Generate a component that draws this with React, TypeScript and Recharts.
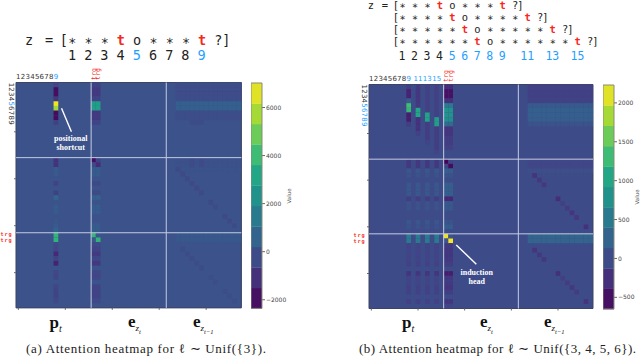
import { ScatterChart, Scatter, XAxis, YAxis, ReferenceArea, ReferenceLine } from "recharts";

const BLUE = "#1ea0ff";
const RED = "#f5281c";
const VIRIDIS = ["#440154", "#482475", "#414487", "#355f8d", "#2a788e", "#21918c", "#22a884", "#44bf70", "#7ad151", "#bddf26", "#fde725"];

// heatmap is 48 x 48: p_t, e_zt, e_zt-1 with 16 cells each
const GRID = 48;
const MAJOR_TICKS = [0.5, 10.5, 20.5, 30.5, 40.5];

// left panel, l ~ Unif({3})
const leftPos8 = [-400, -2000, -2000, -900, 6800, 5700, -2100, -2100, -600, 0, 0, 0, 0, 0, 0, 0, -1000, -1000, 300, 300, 0, -500, 0, -600, 700, 0, 300, 300, 0, 200, 300, 600, 3700, 3700, -300, -400, -1300, -500, -1500, 0, -400, -400, 0, -400, -500, -500, -300, 0];
const leftEmb16 = [-600, -800, -800, -500, 2800, 2800, -800, -800, -500, 0, 0, 0, 0, 0, 0, 0, -2000, -300, 300, 300, 0, -300, 0, -300, 500, 0, 300, 300, 0, 0, 300, 300, 3800, 200, -300, -500, -800, -400, -800, 0, -400, -400, 0, -500, -500, -500, -300, 0];
const leftEmb17 = [-600, -800, -800, -500, 2800, 2800, -800, -800, -500, 0, 0, 0, 0, 0, 0, 0, -500, -1200, 300, 300, 0, -300, 0, -300, 500, 0, 300, 300, 0, 0, 300, 300, 200, 3700, -300, -500, -800, -400, -800, 0, -400, -400, 0, -500, -500, -500, -300, 0];
const leftPrevBand = [-180, -220, -220, -180, 450, 450, -180, -180, 0, 0, 0, 0, 0, 0, 0, 0, -60, -60, 30, 0, 0, 0, 0, 0, 0, 0, 0, 0, 0, 0, 0, 0, 220, 220, 0, 0, 0, 0, 0, 0, 0, 0, 0, 0, 0, 0, 0, 0];
const leftDiagCols = [37, 38, 39, 37, 39, 37, 39, 34, 35, 36, 37, 38, 39, 41, 42, 44, 45, 46, 35, 36, 37, 38, 39, 41, 42, 44, 45, 46];
const leftDiagRows = [8, 8, 8, 16, 16, 17, 17, 18, 19, 20, 21, 22, 23, 25, 26, 28, 29, 30, 35, 36, 37, 38, 39, 41, 42, 44, 45, 46];
const leftDiagValues = [-200, -200, -200, -250, -250, -250, -250, -280, -300, -300, -320, -300, -300, -260, -240, -260, -260, -260, -200, -200, -230, -200, -200, -170, -170, -170, -170, -170];

// right panel, l ~ Unif({3,4,5,6})
const rightPos8 = [-130, -380, -380, 200, 1350, 1250, -420, -420, -130, 0, 0, 0, 0, 0, 0, 0, -170, -170, 130, 70, 0, 130, 130, 130, -140, 70, 70, 0, 0, 130, 100, 0, 520, 520, -70, -70, -70, -70, -100, 0, -210, -70, -70, -100, -100, 0, -100, 0];
const rightPos10 = [-170, -200, -200, -200, -170, 1050, 1050, -240, -240, -240, -100, 0, 0, 0, 0, 0, -170, -170, 130, 70, 0, 130, 130, 130, -140, 70, 70, 0, 0, 130, 100, 0, 520, 520, -70, -70, -70, -70, -100, 0, -210, -70, -70, -100, -100, 0, -100, 0];
const rightPos12 = [-100, -100, -100, -100, -100, -100, 1000, 1000, -140, -140, -140, -140, -70, 0, 0, 0, -170, -170, 130, 70, 0, 130, 130, 130, -140, 70, 70, 0, 0, 130, 100, 0, 520, 520, -70, -70, -70, -70, -100, 0, -210, -70, -70, -100, -100, 0, -100, 0];
const rightPos14 = [-100, -100, -100, -100, -100, -100, -100, 950, 950, -140, -140, -140, -140, -140, -70, 0, -170, -170, 130, 70, 0, 130, 130, 130, -140, 70, 70, 0, 0, 130, 100, 0, 520, 520, -70, -70, -70, -70, -100, 0, -210, -70, -70, -100, -100, 0, -100, 0];
const rightEmb16 = [-300, -520, -520, -260, 520, 800, 820, 780, 350, -220, -220, -150, -150, -100, 0, 0, -620, -70, 200, 100, 0, 200, 200, 200, -330, 140, 140, 0, 0, 100, 200, 0, 2150, 70, -170, -210, -210, -170, -140, 0, -420, -170, -170, -210, -140, 0, -210, -70];
const rightEmb17 = [-300, -520, -520, -260, 520, 800, 820, 780, 350, -220, -220, -150, -150, -100, 0, 0, -70, -560, 200, 100, 0, 200, 200, 200, -330, 140, 140, 0, 0, 100, 200, 0, 70, 2200, -170, -210, -210, -170, -140, 0, -420, -170, -170, -210, -140, 0, -210, -70];
const rightPrevBand = [-100, -110, -110, -90, 160, 220, 220, 200, 90, 0, 0, 0, 0, 0, 0, 0, -50, -50, 30, 0, 0, 0, 0, 0, 0, 0, 0, 0, 0, 0, 0, 0, 270, 270, 0, 0, 0, 0, 0, 0, 0, 0, 0, 0, 0, 0, 0, 0];
const rightDiagCols = [35, 36, 37, 40, 41, 42, 43, 44, 46, 35, 36, 37, 40, 41, 42, 43, 44, 46];
const rightDiagRows = [19, 20, 21, 24, 25, 26, 27, 28, 30, 35, 36, 37, 40, 41, 42, 43, 44, 46];
const rightDiagValues = [-220, -180, -180, -280, -110, -150, -220, -180, -250, -220, -180, -180, -250, -110, -150, -180, -150, -220];

const leftColorTicks = [-2000, 0, 2000, 4000, 6000];
const rightColorTicks = [-500, 0, 500, 1000, 1500, 2000];
const leftDomain: [number, number] = [-2360, 7020];
const rightDomain: [number, number] = [-650, 2230];

const leftTopLabels = ["1", "2", "3", "4", "5", "6", "7", "8", "9"];
const rightTopLabels = ["1", "2", "3", "4", "5", "6", "7", "8", "9", "", "11", "", "13", "", "15"];
const leftSideBlue = [4];
const rightSideBlue = [4, 5, 6, 7, 8];

function viridis(t: number) {
  const u = Math.max(0, Math.min(1, t)) * (VIRIDIS.length - 1);
  const i = Math.min(Math.floor(u), VIRIDIS.length - 2);
  const f = u - i;
  const a = VIRIDIS[i], b = VIRIDIS[i + 1];
  const ch = (s: number) => {
    const x = parseInt(a.slice(s, s + 2), 16);
    const y = parseInt(b.slice(s, s + 2), 16);
    return Math.round(x + (y - x) * f);
  };
  return `rgb(${ch(1)},${ch(3)},${ch(5)})`;
}

type Cell = { col: number; row: number; value: number };

function column(col: number, values: number[]): Cell[] {
  return values.map((value, row) => ({ col: col + 0.5, row: row + 0.5, value })).filter((c) => c.value !== 0);
}

function buildCells(columns: [number, number[]][], band: number[], diagCols: number[], diagRows: number[], diagValues: number[]) {
  const cells: Cell[] = [];
  columns.forEach(([col, values]) => cells.push(...column(col, values)));
  for (let col = 34; col < GRID; col++) cells.push(...column(col, band));
  diagCols.forEach((col, i) => cells.push({ col: col + 0.5, row: diagRows[i] + 0.5, value: diagValues[i] }));
  return cells;
}

const leftCells = buildCells([[8, leftPos8], [16, leftEmb16], [17, leftEmb17]], leftPrevBand, leftDiagCols, leftDiagRows, leftDiagValues);
const rightCells = buildCells([[8, rightPos8], [10, rightPos10], [12, rightPos12], [14, rightPos14], [16, rightEmb16], [17, rightEmb17]], rightPrevBand, rightDiagCols, rightDiagRows, rightDiagValues);

function Heatmap(props: any) {
  const { left, top, plotLeft, plotSize, cells, domain, topLabels, sideBlue, pointer } = props;
  const cellSize = plotSize / GRID;
  const norm = (v: number) => (v - domain[0]) / (domain[1] - domain[0]);
  const topTicks: number[] = [...topLabels.map((l: string, i: number) => (l ? i + 0.5 : -1)).filter((v: number) => v >= 0), 16.5, 17.5];
  const sideTicks = [...Array.from({ length: 9 }, (_, i) => i + 0.5), 10.5, 20.5, 30.5, 32.5, 33.5, 40.5];
  const lineStyle = { stroke: "#c5cde2", strokeWidth: 1, zIndex: 700 };
  return (
    <div style={{ position: "absolute", left, top }}>
      <ScatterChart width={plotLeft + plotSize + 3.5} height={20.5 + plotSize + 5} margin={{ top: 0, right: 3.5, bottom: 0, left: 0 }}>
        <XAxis xAxisId="top" orientation="top" dataKey="col" type="number" domain={[0, GRID]} ticks={topTicks} interval={0} height={20.5} axisLine={false} tickLine={false}
          tick={(p: any) => {
            const i = p.payload.value - 0.5;
            if (i >= 16) {
              return (
                <text transform={`translate(${p.x + 2.2},18) rotate(-90)`} fontFamily="DejaVu Sans Mono" fontSize={6.6} fill={RED}>trg</text>
              );
            }
            return (
              <text x={p.x} y={17} textAnchor="middle" fontFamily="DejaVu Sans" fontSize={7} fill={i >= 8 ? BLUE : "#333"}>{topLabels[i]}</text>
            );
          }} />
        <XAxis xAxisId="bottom" dataKey="col" type="number" domain={[0, GRID]} ticks={MAJOR_TICKS} interval={0} height={5} axisLine={false} tickSize={2} tickLine={{ stroke: "#666" }} tickFormatter={() => ""} />
        <YAxis yAxisId="side" dataKey="row" type="number" reversed domain={[0, GRID]} ticks={sideTicks} interval={0} width={plotLeft} axisLine={false} tickLine={false}
          tick={(p: any) => {
            const v = p.payload.value;
            const x = plotLeft;
            if (v === 32.5 || v === 33.5) {
              return <text x={x - 3.5} y={p.y + (v === 32.5 ? 1 : 2.3)} textAnchor="end" fontFamily="DejaVu Sans Mono" fontSize={5.2} fontWeight={700} letterSpacing={0.9} fill={RED}>trg</text>;
            }
            if (v > 9) {
              return <line x1={x - 2} x2={x} y1={p.y} y2={p.y} stroke="#666" />;
            }
            const i = v - 0.5;
            return (
              <text transform={`translate(${x - 7},${p.y}) rotate(90)`} textAnchor="middle" fontFamily="DejaVu Sans" fontSize={7} fill={sideBlue.includes(i) ? BLUE : "#333"}>{i + 1}</text>
            );
          }} />
        <ReferenceArea xAxisId="bottom" yAxisId="side" x1={0} x2={GRID} y1={0} y2={GRID} fill={viridis(norm(0))} fillOpacity={1} stroke="#3c4463" strokeWidth={1} />
        <Scatter xAxisId="top" yAxisId="side" data={topTicks.map((col) => ({ col, row: 0.5 }))} isAnimationActive={false} shape={() => <g />} />
        <Scatter xAxisId="bottom" yAxisId="side" data={cells} isAnimationActive={false}
          shape={(s: any) => (
            <rect x={s.cx - cellSize / 2} y={s.cy - cellSize / 2} width={cellSize} height={cellSize} fill={viridis(norm(s.payload.value))} />
          )} />
        <ReferenceLine xAxisId="bottom" yAxisId="side" x={16} {...lineStyle} />
        <ReferenceLine xAxisId="bottom" yAxisId="side" x={32} {...lineStyle} />
        <ReferenceLine xAxisId="bottom" yAxisId="side" y={16} {...lineStyle} />
        <ReferenceLine xAxisId="bottom" yAxisId="side" y={32} {...lineStyle} />
        <ReferenceLine xAxisId="bottom" yAxisId="side" segment={pointer} stroke="#fff" strokeWidth={1.4} zIndex={700} />
      </ScatterChart>
    </div>
  );
}

function Colorbar(props: any) {
  const { left, top, height, domain, ticks } = props;
  const bands = 11;
  const step = (domain[1] - domain[0]) / bands;
  const data = Array.from({ length: bands }, (_, i) => ({ x: 0.5, y: domain[0] + (i + 0.5) * step, t: (i + 0.5) / bands }));
  return (
    <div style={{ position: "absolute", left, top }}>
      <ScatterChart width={44} height={height + 10} margin={{ top: 5, right: 0, bottom: 5, left: 0 }}>
        <XAxis type="number" dataKey="x" domain={[0, 1]} hide />
        <YAxis orientation="right" type="number" dataKey="y" domain={domain} ticks={ticks} interval={0} width={33} axisLine={false} tickSize={3} tickLine={{ stroke: "#666" }}
          tick={{ fontSize: 6, fill: "#444", fontFamily: "DejaVu Sans" }} tickMargin={1}
          tickFormatter={(v: number) => String(v).replace("-", "\u2212")} />
        <Scatter data={data} isAnimationActive={false}
          shape={(s: any) => (
            <rect x={s.cx - 5.5} y={s.cy - height / bands / 2} width={11} height={height / bands + 0.3} fill={viridis(s.payload.t)} />
          )} />
        <ReferenceLine segment={[{ x: 0, y: domain[1] }, { x: 1, y: domain[1] }]} stroke="#8a8a7a" zIndex={700} />
        <ReferenceLine segment={[{ x: 0, y: domain[0] }, { x: 0, y: domain[1] }]} stroke="#8a8a7a" zIndex={700} />
        <ReferenceLine segment={[{ x: 1, y: domain[0] }, { x: 1, y: domain[1] }]} stroke="#8a8a7a" zIndex={700} />
        <ReferenceLine segment={[{ x: 0, y: domain[0] }, { x: 1, y: domain[0] }]} stroke="#8a8a7a" zIndex={700} />
      </ScatterChart>
    </div>
  );
}

function Tokens({ x, y, size, tokens, step }: { x: number; y: number; size: number; tokens: string[]; step: number }) {
  return (
    <>
      {tokens.map((t, i) => (
        <text key={i} x={x + i * step} y={y} textAnchor="middle" fontSize={size} fontFamily="DejaVu Sans Mono" fill={t === "t" ? RED : "#222"} fontWeight={t === "t" ? 700 : 400}>{t}</text>
      ))}
    </>
  );
}

const seq = (n: number) => [...Array(n).fill("\u2217"), "t", "o", ...Array(n).fill("\u2217"), "t", "?"];

function Sub({ x, y, base, sub, subsub }: { x: number; y: number; base: string; sub: string; subsub?: string }) {
  return (
    <text x={x} y={y} fontFamily="Liberation Serif" fontSize={17} fontWeight={700} fill="#111">
      {base}
      <tspan dy={4} fontSize={subsub ? 9 : 10} fontStyle="italic" fontWeight={400}>{sub}</tspan>
      {subsub ? <tspan dy={2.5} fontSize={6.5} fontStyle="italic" fontWeight={400}>{subsub}</tspan> : null}
    </text>
  );
}

function Overlay() {
  const note = { fontFamily: "Liberation Serif", fontSize: 8, fontWeight: 700, fill: "#fff", textAnchor: "middle" as const };
  const caption = { fontFamily: "Liberation Serif", fontSize: 13, fill: "#222", lengthAdjust: "spacing" as const };
  return (
    <svg width={640} height={357} style={{ position: "absolute", left: 0, top: 0, pointerEvents: "none" }}>
      <text x={29} y={44.5} textAnchor="middle" fontFamily="DejaVu Sans Mono" fontSize={13.5} fill="#222">z</text>
      <text x={49} y={44.5} textAnchor="middle" fontFamily="DejaVu Sans Mono" fontSize={13.5} fill="#222">=</text>
      <Tokens x={63.9} y={44.5} size={13.5} step={8.13} tokens={["["]} />
      <Tokens x={72} y={44.5} size={13.5} step={16.26} tokens={["\u2217", "\u2217", "\u2217", "t", "o", "\u2217", "\u2217", "\u2217", "t", "?"]} />
      <Tokens x={226.4} y={44.5} size={13.5} step={8} tokens={["]"]} />
      {leftTopLabels.map((l, i) => (
        <text key={i} x={72 + i * 16.2} y={60} textAnchor="middle" fontFamily="DejaVu Sans Mono" fontSize={13.5} fill={i === 4 || i === 8 ? BLUE : "#222"}>{l}</text>
      ))}

      <text x={371} y={8.5} textAnchor="middle" fontFamily="DejaVu Sans Mono" fontSize={10.4} fill="#222">z</text>
      <text x={385} y={8.5} textAnchor="middle" fontFamily="DejaVu Sans Mono" fontSize={10.4} fill="#222">=</text>
      {[3, 4, 5, 6].map((n, li) => {
        const y = 8.5 + li * 12.3;
        const toks = seq(n);
        return (
          <g key={n}>
            <Tokens x={396} y={y} size={10.4} step={6.27} tokens={["["]} />
            <Tokens x={402.3} y={y} size={10.4} step={12.53} tokens={toks} />
            <Tokens x={402.3 + (toks.length - 1) * 12.53 + 5.2} y={y} size={10.4} step={6.27} tokens={["]"]} />
          </g>
        );
      })}
      {rightTopLabels.map((l, i) => (
        <text key={i} x={402 + i * 12.53} y={60} textAnchor="middle" fontFamily="DejaVu Sans Mono" fontSize={11.5} fill={i >= 4 ? BLUE : "#222"}>{l}</text>
      ))}

      <text {...note} x={70.7} y={141}>positional</text>
      <text {...note} x={70.7} y={150}>shortcut</text>
      <text {...note} x={476.7} y={274.5}>induction</text>
      <text {...note} x={476.7} y={283.5}>head</text>

      <Sub x={49.5} y={328} base="p" sub="t" />
      <Sub x={128} y={327} base="e" sub="z" subsub="t" />
      <Sub x={193} y={327} base="e" sub="z" subsub="t−1" />
      <Sub x={402} y={328} base="p" sub="t" />
      <Sub x={480} y={327} base="e" sub="z" subsub="t" />
      <Sub x={544} y={327} base="e" sub="z" subsub="t−1" />

      <text transform="translate(291,196) rotate(-90)" textAnchor="middle" fontFamily="DejaVu Sans" fontSize={5.5} fill="#555">Value</text>
      <text transform="translate(639,197) rotate(-90)" textAnchor="middle" fontFamily="DejaVu Sans" fontSize={5.5} fill="#555">Value</text>

      <text {...caption} x={26} y={353} textLength={240}>(a) Attention heatmap for ℓ ∼ Unif({"{"}3{"}"}).</text>
      <text {...caption} x={359} y={353} textLength={277}>(b) Attention heatmap for ℓ ∼ Unif({"{"}3, 4, 5, 6{"}"}).</text>
    </svg>
  );
}

export default function App() {
  return (
    <div style={{ position: "absolute", left: 0, top: 0, width: 640, height: 357, background: "#fff", overflow: "hidden" }}>
      <Heatmap left={0} top={62} plotLeft={16} plotSize={225.4} cells={leftCells} domain={leftDomain} topLabels={leftTopLabels} sideBlue={leftSideBlue}
        pointer={[{ x: 9.7, y: 5.5 }, { x: 11.8, y: 10.5 }]} />
      <Heatmap left={345} top={64} plotLeft={24} plotSize={224} cells={rightCells} domain={rightDomain} topLabels={rightTopLabels} sideBlue={rightSideBlue}
        pointer={[{ x: 18.7, y: 34.4 }, { x: 23, y: 38.5 }]} />
      <Colorbar left={251} top={77.5} height={225.4} domain={leftDomain} ticks={leftColorTicks} />
      <Colorbar left={603} top={79.5} height={224} domain={rightDomain} ticks={rightColorTicks} />
      <Overlay />
    </div>
  );
}
